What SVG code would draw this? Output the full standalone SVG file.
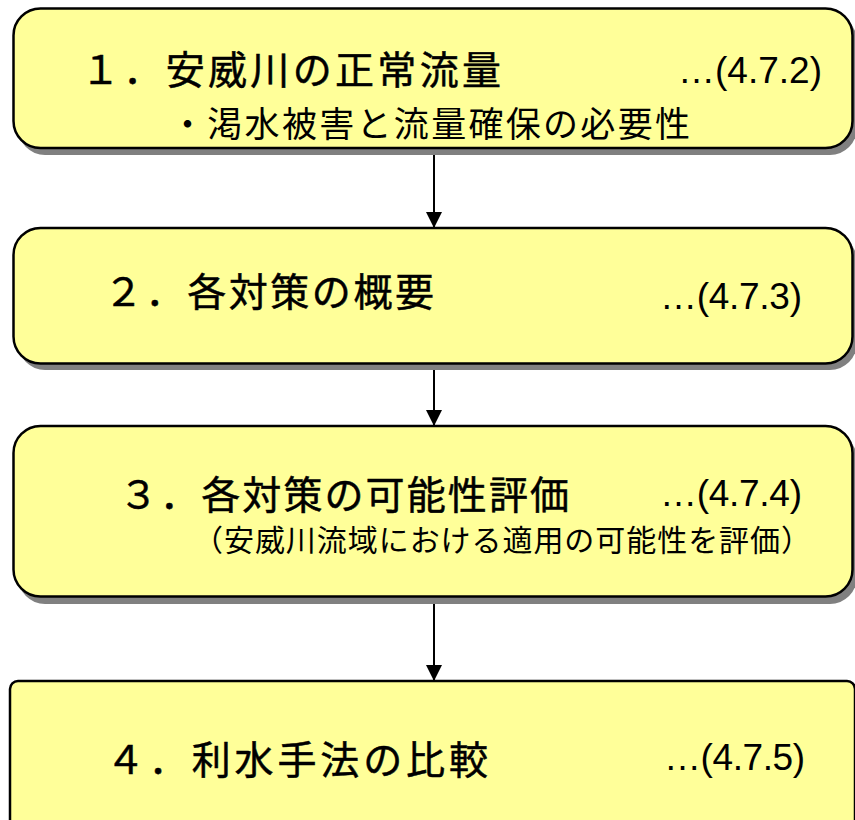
<svg xmlns="http://www.w3.org/2000/svg" width="855" height="820" viewBox="0 0 855 820">
<defs>
<style>
.box{fill:#FFFF99;stroke:#000;stroke-width:2.5}
.shadow{fill:#808080}
.title{font-family:"Noto Sans CJK JP","Liberation Sans",sans-serif;font-size:39px;font-weight:normal;fill:#000;stroke:#000;stroke-width:0.5}
.sub{font-family:"Noto Sans CJK JP","Liberation Sans",sans-serif;fill:#000}
.ref{font-family:"Liberation Sans","Noto Sans CJK JP",sans-serif;font-size:37px;fill:#000}
.conn{stroke:#000;stroke-width:2;fill:none}
</style>
<marker id="arr" viewBox="0 0 16 16" refX="16" refY="8" markerWidth="16" markerHeight="16" markerUnits="userSpaceOnUse" orient="auto">
<path d="M0,0 L16,8 L0,16 Z" fill="#000"/>
</marker>
</defs>
<rect width="855" height="820" fill="#fff"/>
<g id="connectors">
<line class="conn" x1="434" y1="148" x2="434" y2="228" marker-end="url(#arr)"/>
<line class="conn" x1="434" y1="364" x2="434" y2="426" marker-end="url(#arr)"/>
<line class="conn" x1="434" y1="597" x2="434" y2="681" marker-end="url(#arr)"/>
</g>
<g id="node1">
<rect class="shadow" x="18" y="14" width="839" height="141" rx="27"/>
<rect class="box" x="13.5" y="8.5" width="839" height="139.5" rx="27"/>
<text class="title" x="81" y="84" textLength="420">１．安威川の正常流量</text>
<text class="sub" x="170" y="137" font-size="35" textLength="520">・渇水被害と流量確保の必要性</text>
<text class="ref" x="678" y="83" textLength="144">…(4.7.2)</text>
</g>
<g id="node2">
<rect class="shadow" x="18" y="234" width="839" height="136" rx="27"/>
<rect class="box" x="13.5" y="228" width="839" height="135.5" rx="27"/>
<text class="title" x="104" y="306" textLength="330">２．各対策の概要</text>
<text class="ref" x="660" y="309" textLength="142">…(4.7.3)</text>
</g>
<g id="node3">
<rect class="shadow" x="18" y="432" width="839" height="172" rx="27"/>
<rect class="box" x="13.5" y="426" width="839" height="170.5" rx="27"/>
<text class="title" x="119" y="509" textLength="450">３．各対策の可能性評価</text>
<text class="ref" x="660" y="506" textLength="142">…(4.7.4)</text>
<text class="sub" x="193" y="551" font-size="30" textLength="618">（安威川流域における適用の可能性を評価）</text>
</g>
<g id="node4">
<rect class="box" x="10" y="681" width="845" height="160" rx="8"/>
<text class="title" x="106" y="774" textLength="382">４．利水手法の比較</text>
<text class="ref" x="664" y="770" textLength="141">…(4.7.5)</text>
</g>
</svg>
